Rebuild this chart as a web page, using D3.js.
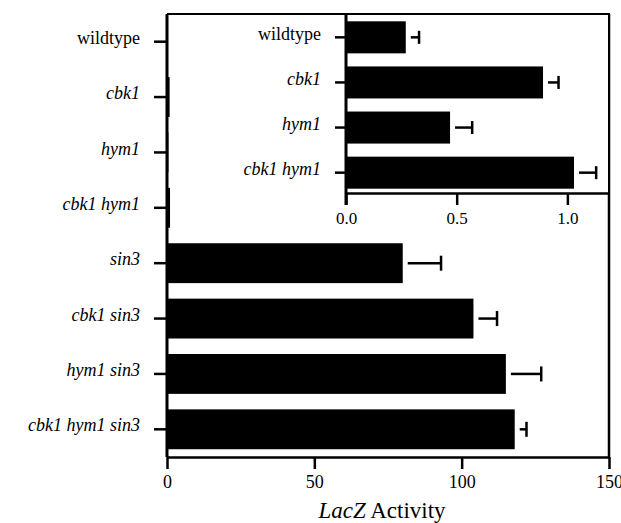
<!DOCTYPE html>
<html>
<head>
<meta charset="utf-8">
<script src="https://cdn.jsdelivr.net/npm/d3@7"></script>
<style>
  html, body { margin: 0; padding: 0; background: #fff; }
  svg text { font-family: "Liberation Serif", "Times New Roman", Times, "DejaVu Serif", serif; fill: #000; }
</style>
</head>
<body>
<svg id="chart" width="621" height="523"></svg>
<script>
// Strains (top to bottom) and LacZ activity with error
const strains = ["wildtype", "cbk1", "hym1", "cbk1 hym1", "sin3", "cbk1 sin3", "hym1 sin3", "cbk1 hym1 sin3"];
const activity = [0.27, 0.89, 0.47, 1.03, 80, 104, 115, 118];
const activityErr = [0.06, 0.07, 0.10, 0.10, 13, 8, 12, 4];

// Inset: the four strains without sin3 on an expanded scale
const insetStrains = ["wildtype", "cbk1", "hym1", "cbk1 hym1"];
const insetActivity = [0.27, 0.89, 0.47, 1.03];
const insetErr = [0.06, 0.07, 0.10, 0.10];

const mainTicks = [0, 50, 100, 150];
const insetTicks = [0, 0.5, 1.0];
const mainTickLabels = ["0", "50", "100", "150"];
const insetTickLabels = ["0.0", "0.5", "1.0"];

const SERIF = "'Liberation Serif', 'Times New Roman', Times, 'DejaVu Serif', serif";
const svg = d3.select("#chart").style("font-family", SERIF);
const lw = 2.5;

// ---- main panel ----
const M = { left: 167, right: 609, top: 14, bottom: 457 };
const x = d3.scaleLinear().domain([0, 150]).range([M.left, M.right]);
const y = d3.scaleBand().domain(strains).range([M.top, M.bottom]).paddingInner(0.28).paddingOuter(0.14);

const mainRows = strains.map((s, i) => ({ s, v: activity[i], e: activityErr[i] }));

function drawBars(g, rows, xs, ys, capH) {
  g.selectAll("rect.bar").data(rows).join("rect")
    .attr("class", "bar")
    .attr("x", xs(0))
    .attr("y", d => ys(d.s))
    .attr("width", d => xs(d.v) - xs(0))
    .attr("height", ys.bandwidth())
    .attr("fill", "#000");
  const eb = g.selectAll("g.err").data(rows).join("g").attr("class", "err");
  eb.append("line")
    .attr("x1", d => xs(d.v) + 5)
    .attr("x2", d => xs(d.v + d.e))
    .attr("y1", d => ys(d.s) + ys.bandwidth() / 2)
    .attr("y2", d => ys(d.s) + ys.bandwidth() / 2)
    .attr("stroke", "#000").attr("stroke-width", lw);
  eb.append("line")
    .attr("x1", d => xs(d.v + d.e))
    .attr("x2", d => xs(d.v + d.e))
    .attr("y1", d => ys(d.s) + ys.bandwidth() / 2 - capH / 2)
    .attr("y2", d => ys(d.s) + ys.bandwidth() / 2 + capH / 2)
    .attr("stroke", "#000").attr("stroke-width", lw);
}

function styleAxis(g, fontSize) {
  g.attr("font-family", null).attr("font-size", null);
  g.select(".domain").attr("stroke", "#000").attr("stroke-width", lw);
  g.selectAll(".tick line").attr("stroke", "#000").attr("stroke-width", lw);
  g.selectAll(".tick text")
    .style("font-family", SERIF)
    .style("font-size", fontSize + "px")
    .attr("fill", "#000");
}

// category axis: labels right-aligned with their baseline near the tick
function categoryAxis(parent, scale, axisX, top, bottom, tickLen, gap) {
  const g = parent.append("g").attr("transform", `translate(${axisX},0)`);
  g.append("line").attr("x1", 0).attr("x2", 0).attr("y1", top).attr("y2", bottom)
    .attr("stroke", "#000").attr("stroke-width", 3);
  const t = g.selectAll("g.cat").data(scale.domain()).join("g").attr("class", "cat")
    .attr("transform", d => `translate(0,${scale(d) + scale.bandwidth() / 2})`);
  t.append("line").attr("x1", -tickLen).attr("x2", 0)
    .attr("stroke", "#000").attr("stroke-width", lw);
  t.append("text").attr("x", -tickLen - gap).attr("dy", "0.12em")
    .attr("text-anchor", "end")
    .style("font-size", "18px")
    .style("font-style", d => d === "wildtype" ? "normal" : "italic")
    .text(d => d);
  return g;
}

const mainG = svg.append("g");
drawBars(mainG, mainRows.filter(d => d.v > 5), x, y, 15);
// tiny bars for the low-activity strains hug the axis
mainG.selectAll("rect.small").data(mainRows.filter(d => d.v <= 5)).join("rect")
  .attr("x", x(0)).attr("y", d => y(d.s))
  .attr("width", d => x(d.v) - x(0)).attr("height", y.bandwidth()).attr("fill", "#000");

const xAxisG = svg.append("g").attr("transform", `translate(0,${M.bottom})`)
  .call(d3.axisBottom(x).tickValues(mainTicks).tickFormat((d, i) => mainTickLabels[i]).tickSize(12).tickSizeOuter(0).tickPadding(6));
styleAxis(xAxisG, 18);

categoryAxis(svg, y, M.left, M.top, M.bottom, 13, 14);

// frame: top and right edges
svg.append("line").attr("x1", M.left).attr("x2", M.right + 1).attr("y1", M.top).attr("y2", M.top)
  .attr("stroke", "#000").attr("stroke-width", 2);
svg.append("line").attr("x1", M.right).attr("x2", M.right).attr("y1", M.top).attr("y2", M.bottom)
  .attr("stroke", "#000").attr("stroke-width", lw);

// axis title
const title = svg.append("text").attr("x", 382).attr("y", 518).attr("text-anchor", "middle").style("font-size", "23px");
title.append("tspan").style("font-style", "italic").text("LacZ");
title.append("tspan").text(" Activity");

// ---- inset panel ----
const I = { left: 346, right: 609, top: 14, bottom: 193 };
const xi = d3.scaleLinear().domain([0, 1.188]).range([I.left, I.right]);
const yi = d3.scaleBand().domain(insetStrains).range([I.top + 1, I.bottom + 2]).paddingInner(0.29).paddingOuter(0.14);

svg.append("rect").attr("x", I.left).attr("y", I.top + 1)
  .attr("width", I.right - I.left - 1).attr("height", I.bottom - I.top).attr("fill", "#fff");

const insetRows = insetStrains.map((s, i) => ({ s, v: insetActivity[i], e: insetErr[i] }));
const insetG = svg.append("g");
drawBars(insetG, insetRows, xi, yi, 13);

const xiAxisG = svg.append("g").attr("transform", `translate(0,${I.bottom})`)
  .call(d3.axisBottom(xi).tickValues(insetTicks).tickFormat((d, i) => insetTickLabels[i]).tickSize(12).tickSizeOuter(0).tickPadding(7));
styleAxis(xiAxisG, 17);

categoryAxis(svg, yi, I.left, I.top, I.bottom + 12, 11, 14);
</script>
</body>
</html>
